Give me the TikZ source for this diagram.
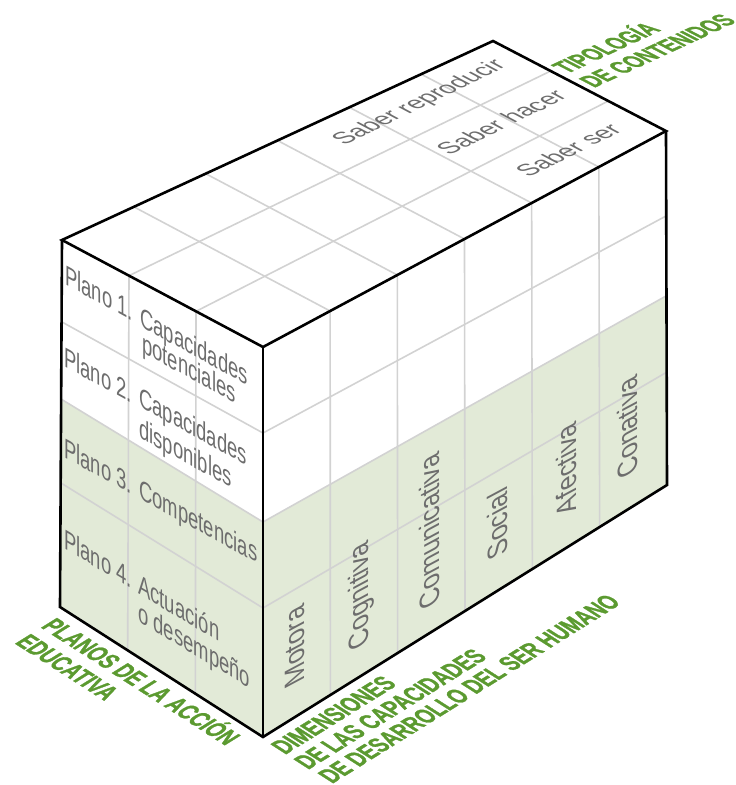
\documentclass[tikz,border=0pt]{standalone}
\usepackage{fontspec}
\setmainfont{Liberation Sans}
\newfontfamily\gfont[FakeStretch=0.66]{Liberation Sans}
\newfontfamily\lfont[FakeStretch=0.7,FakeBold=1.2]{Liberation Sans}
\usetikzlibrary{calc}
\definecolor{facegreen}{HTML}{E2EAD7}
\definecolor{gridgray}{HTML}{D2D2D2}
\definecolor{txtgray}{HTML}{6D6D6D}
\definecolor{labgreen}{HTML}{5B9A30}
\begin{document}
\begin{tikzpicture}[x=1pt,y=-1pt,
  outline/.style={draw=black, line width=2.6pt},
  gridline/.style={draw=gridgray, line width=1.6pt},
  facetext/.style={font=\gfont\fontsize{28}{30}\selectfont, text=txtgray, inner sep=0pt, transform shape},
  lt/.style={facetext, anchor=base west, cm={1,-0.55,0,1,(0,0)}},
  ltb/.style={facetext, anchor=base west, cm={1,-0.6,0,1,(0,0)}},
  rt/.style={facetext, anchor=center, cm={0,1.35,-1,-0.536,(0,0)}},
  tt/.style={facetext, anchor=center, cm={1.182,0.576,-0.795,0.423,(0,0)}},
  gl/.style={font=\lfont\bfseries\fontsize{27}{30}\selectfont, text=labgreen, inner sep=0pt, transform shape, anchor=base west},
  plA/.style={cm={0.842,-0.539,0.849,0.529,(0,0)}},
  dimA/.style={cm={0.849,0.529,-0.842,0.539,(0,0)}},
  tipA/.style={cm={0.908,0.420,-0.887,0.462,(0,0)}}
]
\useasboundingbox (0,0) rectangle (736,785);
% corners
\coordinate (A) at (62,240);
\coordinate (B) at (263,347);
\coordinate (C) at (666,131);
\coordinate (D) at (493,41);
\coordinate (E) at (60,607);
\coordinate (F) at (263,737);
\coordinate (G) at (667,485);
% row points
\coordinate (L1) at (62,322);
\coordinate (L2) at (61,399);
\coordinate (L3) at (61,483);
\coordinate (M1) at (263,433);
\coordinate (M2) at (263,522);
\coordinate (M3) at (263,608);
\coordinate (R1) at (666,216);
\coordinate (R2) at (666,296);
\coordinate (R3) at (667,372);
% green fills
\fill[facegreen] (L2) -- (M2) -- (F) -- (E) -- cycle;
\fill[facegreen] (M2) -- (R2) -- (G) -- (F) -- cycle;
% grid: left face
\draw[gridline] (L1) -- (M1);
\draw[gridline] (L2) -- (M2);
\draw[gridline] (L3) -- (M3);
\foreach \k in {1,2}
  \draw[gridline] ($(A)!\k/3!(B)$) -- ($(E)!\k/3!(F)$);
% grid: right face
\draw[gridline] (M1) -- (R1);
\draw[gridline] (M2) -- (R2);
\draw[gridline] (M3) -- (R3);
\foreach \k in {1,...,5}
  \draw[gridline] ($(B)!\k/6!(C)$) -- ($(F)!\k/6!(G)$);
% grid: top face
\foreach \k in {1,...,5}
  \draw[gridline] ($(B)!\k/6!(C)$) -- ($(A)!\k/6!(D)$);
\foreach \k in {1,2}
  \draw[gridline] ($(B)!\k/3!(A)$) -- ($(C)!\k/3!(D)$);
% outline
\draw[outline] (A) -- (B) -- (C) -- (D) -- cycle;
\draw[outline] (A) -- (E) -- (F) -- (G) -- (C);
\draw[outline] (B) -- (F);
% left face texts
\node[lt] (p1)  at (65,284)  {Plano 1.};
\node[lt] (c1)  at (140,326) {Capacidades};
\node[lt] (c1b) at (142,352) {potenciales};
\node[lt] (p2)  at (64,366)  {Plano 2.};
\node[lt] (c2)  at (139,406) {Capacidades};
\node[lt] (c2b) at (139,437) {disponibles};
\node[lt] (p3)  at (64,457)  {Plano 3.};
\node[lt] (c3)  at (139,498) {Competencias};
\node[ltb] (p4)  at (64,548)  {Plano 4.};
\node[ltb] (c4)  at (138,593) {Actuación};
\node[ltb] (c4b) at (138,621) {o desempeño};
% right face texts
\node[rt] (mot) at (295,647) {Motora};
\node[rt] (cog) at (361,595) {Cognitiva};
\node[rt] (com) at (429,532) {Comunicativa};
\node[rt] (soc) at (497,524) {Social};
\node[rt] (afe) at (566,470) {Afectiva};
\node[rt] (con) at (627,428) {Conativa};
% top face texts
\node[tt] (sr) at (420,103) {Saber reproducir};
\node[tt] (sh) at (501,122) {Saber hacer};
\node[tt] (ss) at (568,150) {Saber ser};
% green labels
\node[gl, tipA] (tip1) at (567,74) {TIPOLOGÍA};
\node[gl, tipA] (tip2) at (594,88) {DE CONTENIDOS};
\node[gl, plA] (pla1) at (40,627) {PLANOS DE LA ACCIÓN};
\node[gl, plA] (pla2) at (14,643) {EDUCATIVA};
\node[gl, dimA] (dim1) at (285,755) {DIMENSIONES};
\node[gl, dimA] (dim2) at (308,770) {DE LAS CAPACIDADES};
\node[gl, dimA] (dim3) at (332,784) {DE DESARROLLO DEL SER HUMANO};
\end{tikzpicture}
\end{document}
